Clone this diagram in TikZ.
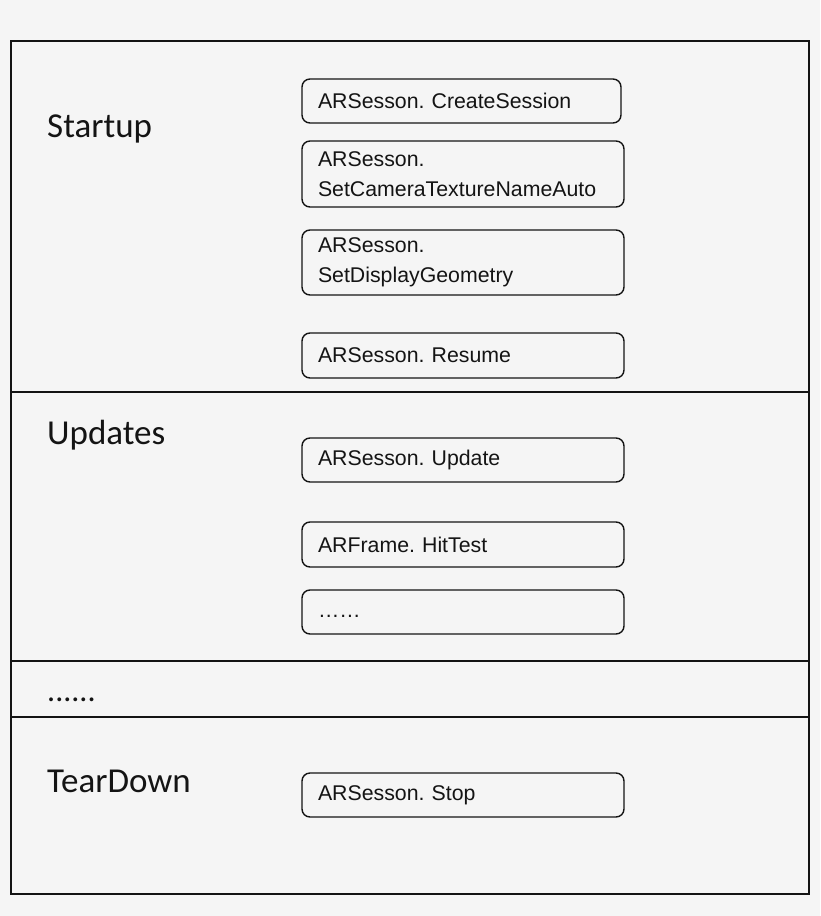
\documentclass[tikz,border=0pt]{standalone}
\usepackage{fontspec}
\setmainfont{Liberation Sans}
\newfontfamily\labelfont{Carlito}
\frenchspacing
\definecolor{bgc}{RGB}{245,245,245}
\definecolor{ink}{RGB}{20,20,20}
\tikzset{
  stagebox/.style={draw=ink, line width=1.4pt, rounded corners=8pt, minimum width=322pt,
    text width=290pt, inner xsep=16pt, inner ysep=0pt, align=left, text=ink,
    font=\fontsize{21.3}{30}\selectfont},
  phaselabel/.style={anchor=base west, inner sep=0pt, text=ink, font=\labelfont\fontsize{35}{40}\selectfont},
  frameline/.style={draw=ink, line width=2pt},
}
\begin{document}
\begin{tikzpicture}[x=1pt, y=-1pt]
\fill[bgc] (0,0) rectangle (820,916);
\useasboundingbox (0,0) rectangle (820,916);
\draw[frameline] (10.5,40.5) rectangle (809,893.5);
\coordinate (d1l) at (10.5,391.5); \coordinate (d1r) at (809,391.5);
\coordinate (d2l) at (10.5,661); \coordinate (d2r) at (809,661);
\coordinate (d3l) at (10.5,717); \coordinate (d3r) at (809,717);
\draw[frameline] (d1l) -- (d1r);
\draw[frameline] (d2l) -- (d2r);
\draw[frameline] (d3l) -- (d3r);

\node[phaselabel] (startup) at (47,137) {Startup};
\node[phaselabel] (updates) at (47,444) {Updates};
\node[phaselabel, font=\labelfont\fontsize{32}{36}\selectfont] (more) at (47,701) {......};
\node[phaselabel] (teardown) at (47,792) {TearDown};

\node[stagebox, minimum width=319pt, text width=287pt, minimum height=44pt] (create) at (461.5,101) {ARSesson. CreateSession};
\node[stagebox, minimum height=66pt] (camtex) at (463,174) {ARSesson.\\SetCameraTextureNameAuto};
\node[stagebox, minimum height=65pt] (disp) at (463,262.5) {ARSesson.\\SetDisplayGeometry};
\node[stagebox, minimum height=45pt] (resume) at (463,355.5) {ARSesson. Resume};
\node[stagebox, minimum height=44pt] (update) at (463,460) {ARSesson. Update};
\node[stagebox, minimum height=45pt] (hittest) at (463,544.5) {ARFrame. HitTest};
\node[stagebox, minimum height=44pt, text depth=0pt] (dots) at (463,612) {\raisebox{-5pt}{\char"2026\char"2026}};
\node[stagebox, minimum height=44pt] (stop) at (463,795) {ARSesson. Stop};
\end{tikzpicture}
\end{document}
